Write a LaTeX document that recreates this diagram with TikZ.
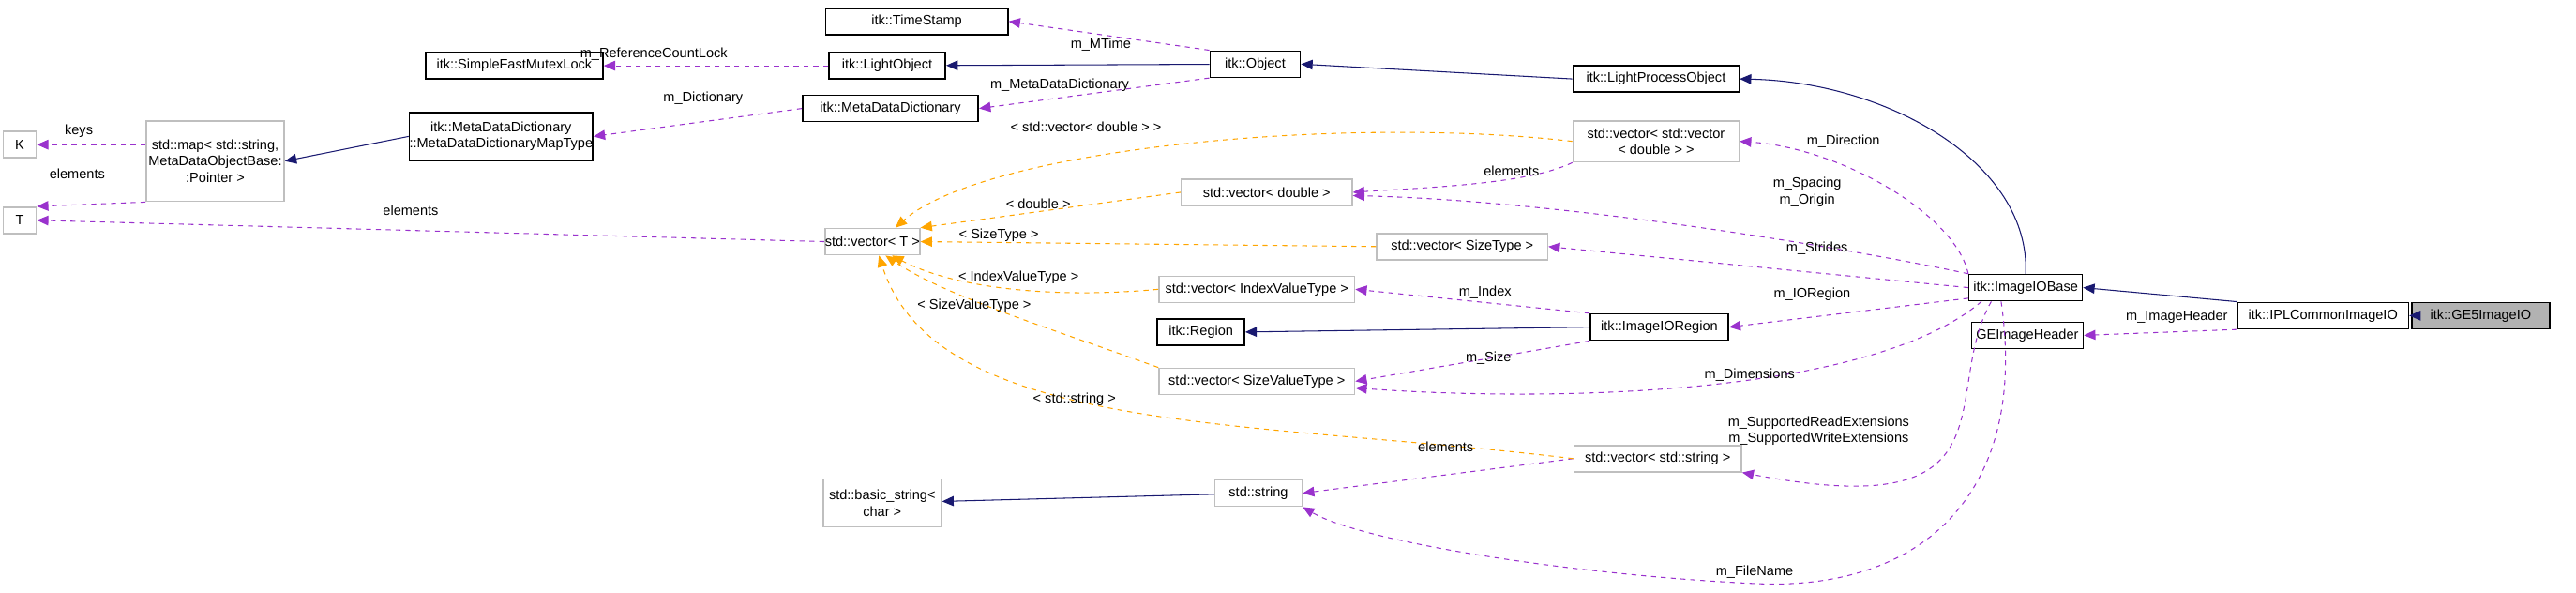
\documentclass[tikz,border=0pt]{standalone}
\usepackage{fontspec}
\setmainfont{Liberation Sans}
\usetikzlibrary{arrows.meta}
\definecolor{usecol}{HTML}{9A32CD}
\definecolor{inhcol}{HTML}{191970}
\definecolor{tplcol}{HTML}{FFA500}
\tikzset{every picture/.style={line width=0.6pt}}
\tikzset{
  cls/.style={draw=black, line width=0.9pt, fill=white, inner sep=0pt, minimum height=16pt, align=center, font=\fontsize{8.3}{10}\selectfont},
  ext/.style={cls, draw=black!25},
  cur/.style={cls, fill=black!30},
  uses/.style={draw=usecol, dashed, -{Triangle[length=7pt,width=6pt]}},
  inh/.style={draw=inhcol, -{Triangle[length=7pt,width=6pt]}},
  tpl/.style={draw=tplcol, dashed, -{Triangle[length=7pt,width=6pt]}},
  lbl/.style={font=\fontsize{8.3}{10}\selectfont, align=center, inner sep=0pt}
}

\begin{document}
\begin{tikzpicture}[x=1pt,y=1pt,yscale=-1,xscale=1]
\useasboundingbox (0,0) rectangle (1568,360.2);

% classes
\node[ext, minimum width=20pt] (K) at (12,88) {K};
\node[ext, minimum width=20pt] (T) at (12,134) {T};
\node[ext, minimum width=84pt, minimum height=49pt] (map) at (131,98) {std::map\textless{} std::string,\\MetaDataObjectBase:\\:Pointer \textgreater};
\node[cls, minimum width=111pt, minimum height=29pt] (maptype) at (305,83) {itk::MetaDataDictionary\\::MetaDataDictionaryMapType};
\node[cls, minimum width=108pt] (mutex) at (313,40) {itk::SimpleFastMutexLock};
\node[cls, minimum width=111pt] (stamp) at (558,13) {itk::TimeStamp};
\node[cls, minimum width=71pt] (light) at (540,40) {itk::LightObject};
\node[cls, minimum width=107pt] (dict) at (542,66) {itk::MetaDataDictionary};
\node[cls, minimum width=55pt] (object) at (764,39) {itk::Object};
\node[cls, minimum width=101pt] (lpo) at (1008,48) {itk::LightProcessObject};
\node[ext, minimum width=52pt] (vecT) at (531,147) {std::vector\textless{} T \textgreater};
\node[ext, minimum width=101pt, minimum height=25pt] (vecvec) at (1008,86) {std::vector\textless{} std::vector\\\textless{} double \textgreater{} \textgreater};
\node[ext, minimum width=104pt] (vecdbl) at (771,117) {std::vector\textless{} double \textgreater};
\node[ext, minimum width=104pt] (vecsize) at (890,150) {std::vector\textless{} SizeType \textgreater};
\node[ext, minimum width=119pt] (vecidx) at (765,176) {std::vector\textless{} IndexValueType \textgreater};
\node[cls, minimum width=53pt] (region) at (731,202) {itk::Region};
\node[cls, minimum width=84pt] (ioregion) at (1010,199) {itk::ImageIORegion};
\node[ext, minimum width=119pt] (vecsval) at (765,232) {std::vector\textless{} SizeValueType \textgreater};
\node[ext, minimum width=102pt] (vecstr) at (1009,279) {std::vector\textless{} std::string \textgreater};
\node[ext, minimum width=53pt] (string) at (766,300) {std::string};
\node[ext, minimum width=72pt, minimum height=29pt] (basic) at (537,306) {std::basic\_string\textless\\char \textgreater};
\node[cls, minimum width=69pt] (iobase) at (1233,175) {itk::ImageIOBase};
\node[cls, minimum width=68pt] (header) at (1234,204) {GEImageHeader};
\node[cls, minimum width=104pt] (ipl) at (1414,192) {itk::IPLCommonImageIO};
\node[cur, minimum width=84pt] (ge5) at (1510,192) {itk::GE5ImageIO};

% inheritance
\draw[inh] (ge5) -- (ipl);
\draw[inh] (ipl.north west) -- (iobase.east);
\draw[inh] (iobase.north) .. controls (1236,100) and (1150,50) .. (lpo.east);
\draw[inh] (lpo.west) -- (object.east);
\draw[inh] (object) -- (light);
\draw[inh] (maptype.west) -- (map.east);
\draw[inh] (ioregion.west) -- (region.east);
\draw[inh] (string) -- (basic);

% usage
\draw[uses] (map.west |- K) -- (K);
\draw[uses] (map.south west) -- (T.north east);
\draw[uses] (vecT.west) -- (T.east);
\draw[uses] (light) -- (mutex);
\draw[uses] (dict.west) -- (maptype.east);
\draw[uses] (object.north west) -- (stamp.east);
\draw[uses] (object.south west) -- (dict.east);
\draw[uses] (iobase.north west) .. controls (1190,130) and (1120,90) .. (vecvec.east);
\draw[uses] (vecvec.south west) .. controls (930,112) and (870,114) .. (vecdbl.east);
\draw[uses] (iobase.north west) .. controls (1120,150) and (950,122) .. ([yshift=2pt]vecdbl.east);
\draw[uses] (iobase.west) -- (vecsize.east);
\draw[uses] ([yshift=-2pt]iobase.south west) -- (ioregion.east);
\draw[uses] (ioregion.north west) -- (vecidx.east);
\draw[uses] (ioregion.south west) -- (vecsval.east);
\draw[uses] ([xshift=8pt]iobase.south west) .. controls (1140,240) and (950,245) .. ([yshift=4pt]vecsval.east);
\draw[uses] ([xshift=14pt]iobase.south west) .. controls (1180,240) and (1230,320) .. (vecstr.south east);
\draw[uses] ([xshift=20pt]iobase.south west) .. controls (1235,300) and (1170,360) .. (1068,355) .. controls (960,350) and (830,330) .. (string.south east);
\draw[uses] (vecstr.west) -- (string.east);
\draw[uses] (ipl.south west) -- (header.east);

% template instances
\draw[tpl] (vecvec.west) .. controls (820,70) and (600,90) .. ([xshift=14pt]vecT.north);
\draw[tpl] (vecdbl.west) -- (vecT.north east);
\draw[tpl] (vecsize.west) -- (vecT.east);
\draw[tpl] (vecidx.west) .. controls (640,182) and (580,175) .. ([xshift=12pt]vecT.south);
\draw[tpl] (vecsval.north west) .. controls (640,200) and (575,180) .. ([xshift=8pt]vecT.south);
\draw[tpl] (vecstr.west) .. controls (760,255) and (570,265) .. ([xshift=4pt]vecT.south);

% labels
\node[lbl] (lkeys) at (48,80) {keys};
\node[lbl] (lelm1) at (47,106) {elements};
\node[lbl] (lelm2) at (250,128) {elements};
\node[lbl] (lrcl) at (398,33) {m\_ReferenceCountLock};
\node[lbl] (ldic) at (428,60) {m\_Dictionary};
\node[lbl] (lmtime) at (670,27) {m\_MTime};
\node[lbl] (lmdd) at (645,52) {m\_MetaDataDictionary};
\node[lbl] (lvvd) at (661,77) {\textless{} std::vector\textless{} double \textgreater{} \textgreater};
\node[lbl] (lelm3) at (920,104) {elements};
\node[lbl] (ldir) at (1122,86) {m\_Direction};
\node[lbl] (lspc) at (1100,117) {m\_Spacing\\m\_Origin};
\node[lbl] (ldbl) at (632,124) {\textless{} double \textgreater};
\node[lbl] (lsize) at (608,143) {\textless{} SizeType \textgreater};
\node[lbl] (lstr) at (1106,151) {m\_Strides};
\node[lbl] (lidx) at (620,169) {\textless{} IndexValueType \textgreater};
\node[lbl] (lmidx) at (904,178) {m\_Index};
\node[lbl] (lior) at (1103,179) {m\_IORegion};
\node[lbl] (lsval) at (593,186) {\textless{} SizeValueType \textgreater};
\node[lbl] (lmsize) at (906,218) {m\_Size};
\node[lbl] (ldim) at (1065,228) {m\_Dimensions};
\node[lbl] (lhdr) at (1325,193) {m\_ImageHeader};
\node[lbl] (lsstr) at (654,243) {\textless{} std::string \textgreater};
\node[lbl] (lext) at (1107,262) {m\_SupportedReadExtensions\\m\_SupportedWriteExtensions};
\node[lbl] (lelm4) at (880,272) {elements};
\node[lbl] (lfile) at (1068,348) {m\_FileName};
\end{tikzpicture}
\end{document}
